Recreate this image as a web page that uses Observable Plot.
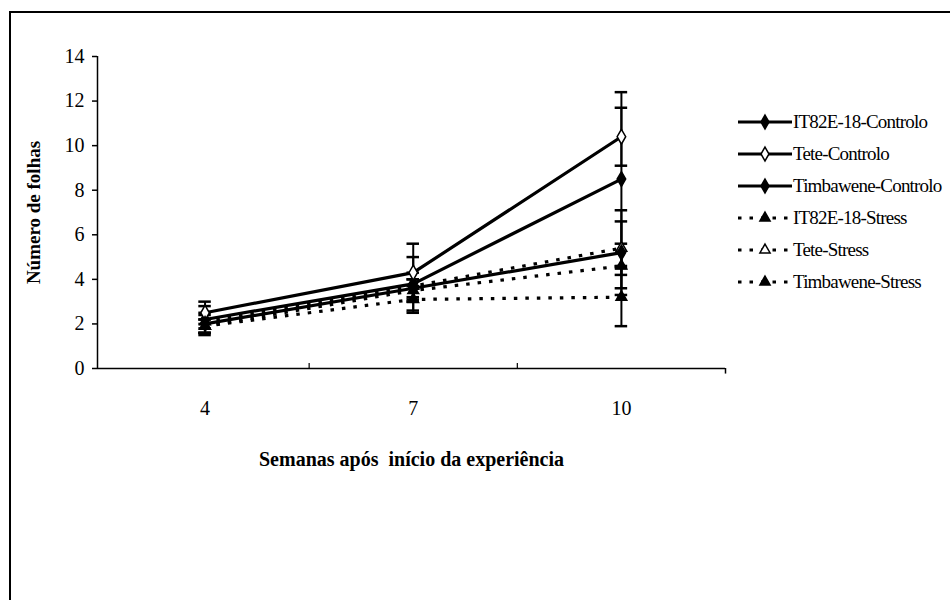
<!DOCTYPE html>
<html>
<head>
<meta charset="utf-8">
<script src="https://cdn.jsdelivr.net/npm/d3@7"></script>
<script src="https://cdn.jsdelivr.net/npm/@observablehq/plot@0.6"></script>
<style>
  html, body { margin: 0; padding: 0; background: #fff; }
  body { width: 950px; height: 600px; position: relative; overflow: hidden; font-family: "Liberation Serif", "DejaVu Serif", serif; }
  #frame { position: absolute; left: 9px; top: 11px; width: 1000px; height: 700px; border-top: 2px solid #000; border-left: 2px solid #000; }
  #chart { position: absolute; left: 0; top: 0; }
  #legend { position: absolute; left: 738px; top: 0; }
  .row { position: absolute; left: 0; height: 24px; white-space: nowrap; display: flex; align-items: center; }
  .row span { font-family: "Liberation Serif", serif; font-size: 19px; letter-spacing: -0.8px; color: #000; margin-left: 1px; }
</style>
</head>
<body>
<div id="frame"></div>
<div id="chart"></div>
<div id="legend"></div>
<script>
// ---- data ----
const weeks = [4, 7, 10];
const seriesNames = ["IT82E-18-Controlo", "Tete-Controlo", "Timbawene-Controlo", "IT82E-18-Stress", "Tete-Stress", "Timbawene-Stress"];
const treatment = ["Controlo", "Controlo", "Controlo", "Stress", "Stress", "Stress"];
const openMarker = [false, true, false, false, true, false];
const means = [
  [2.2, 3.8, 8.5],   // IT82E-18-Controlo
  [2.5, 4.3, 10.4],  // Tete-Controlo
  [2.0, 3.6, 5.2],   // Timbawene-Controlo
  [1.9, 3.5, 4.6],   // IT82E-18-Stress
  [2.1, 3.7, 5.4],   // Tete-Stress
  [1.9, 3.1, 3.2]    // Timbawene-Stress
];
const errors = [
  [0.6, 1.2, 3.9],
  [0.5, 1.3, 1.3],
  [0.5, 0.4, 1.9],
  [0.3, 0.5, 1.0],
  [0.3, 0.6, 1.2],
  [0.3, 0.6, 1.3]
];
const yTicks = [0, 2, 4, 6, 8, 10, 12, 14];
const xBoundaries = [5.5, 8.5];
const xLabel = "Semanas após  início da experiência";
const yLabel = "Número de folhas";

const rows = [];
seriesNames.forEach((s, i) => weeks.forEach((w, j) => rows.push({
  series: s, treatment: treatment[i], open: openMarker[i], week: w,
  value: means[i][j], lo: means[i][j] - errors[i][j], hi: means[i][j] + errors[i][j]
})));
const ctrl = rows.filter(d => d.treatment === "Controlo");
const stress = rows.filter(d => d.treatment === "Stress");
const capHalf = 0.09;
const dash = "3.5,8";
const serif = "Liberation Serif, serif";

const chart = Plot.plot({
  width: 950,
  height: 480,
  marginLeft: 97,
  marginRight: 225,
  marginTop: 56,
  marginBottom: 112,
  style: { fontFamily: serif, fontSize: "19px", color: "#000", background: "transparent" },
  x: { domain: [2.45, 11.5] },
  y: { domain: [0, 14] },
  color: { type: "identity" },
  marks: [
    Plot.axisY({ ticks: yTicks, tickSize: 5, tickPadding: 8, label: null, strokeWidth: 1.5, fontSize: 20, fontFamily: serif, letterSpacing: "-1px" }),
    Plot.ruleX([2.45], { strokeWidth: 1.5 }),
    Plot.ruleY([0], { strokeWidth: 1.5 }),
    Plot.axisX({ ticks: weeks, tickSize: 0, tickPadding: 32, label: null, fontSize: 20, fontFamily: serif, letterSpacing: "-1px" }),
    Plot.ruleX(xBoundaries, { y1: 0, y2: 0.22, strokeWidth: 1.2 }),
    Plot.ruleX([11.5], { y1: 0, y2: -0.25, strokeWidth: 1.5 }),
    Plot.text([xLabel], { frameAnchor: "bottom", dy: 97, fontWeight: "bold", fontSize: 20, fontFamily: serif, letterSpacing: "-0.3px" }),
    Plot.text([yLabel], { frameAnchor: "left", dx: -64, rotate: -90, textAnchor: "middle", fontWeight: "bold", fontSize: 19, fontFamily: serif, letterSpacing: "2.6px" }),
    // error bars
    Plot.ruleX(rows, { x: "week", y1: "lo", y2: "hi", stroke: "#000", strokeWidth: 2 }),
    Plot.ruleY(rows, { y: "hi", x1: d => d.week - capHalf, x2: d => d.week + capHalf, stroke: "#000", strokeWidth: 2.5 }),
    Plot.ruleY(rows, { y: "lo", x1: d => d.week - capHalf, x2: d => d.week + capHalf, stroke: "#000", strokeWidth: 2.5 }),
    // lines
    Plot.line(stress, { x: "week", y: "value", z: "series", stroke: "#000", strokeWidth: 3.2, strokeDasharray: dash, strokeLinecap: "butt" }),
    Plot.line(ctrl, { x: "week", y: "value", z: "series", stroke: "#000", strokeWidth: 3.2 }),
    Plot.dot(stress, { x: "week", y: "value", symbol: "triangle", r: 4, fill: d => d.open ? "#fff" : "#000", stroke: "#000", strokeWidth: 1.5 }),
    Plot.dot(ctrl, { x: "week", y: "value", symbol: "diamond", r: 4.5, fill: d => d.open ? "#fff" : "#000", stroke: "#000", strokeWidth: 1.5 })
  ]
});
document.getElementById("chart").appendChild(chart);

// legend built from the same series arrays
const legend = document.getElementById("legend");
const rowTop = 110, rowGap = 32;
seriesNames.forEach((s, i) => {
  const row = document.createElement("div");
  row.className = "row";
  row.style.top = (rowTop + i * rowGap) + "px";
  const isStress = treatment[i] === "Stress";
  const svg = d3.create("svg").attr("width", 54).attr("height", 24);
  svg.append("line").attr("x1", 0).attr("x2", 54).attr("y1", 12).attr("y2", 12)
    .attr("stroke", "#000").attr("stroke-width", 3.2)
    .attr("stroke-dasharray", isStress ? dash : null);
  const sym = d3.symbol(isStress ? d3.symbolTriangle : d3.symbolDiamond, isStress ? 45 : 55)();
  svg.append("path").attr("d", sym).attr("transform", "translate(27,12)")
    .attr("fill", openMarker[i] ? "#fff" : "#000").attr("stroke", "#000").attr("stroke-width", 1.5);
  row.appendChild(svg.node());
  const t = document.createElement("span");
  t.textContent = s;
  row.appendChild(t);
  legend.appendChild(row);
});
</script>
</body>
</html>
